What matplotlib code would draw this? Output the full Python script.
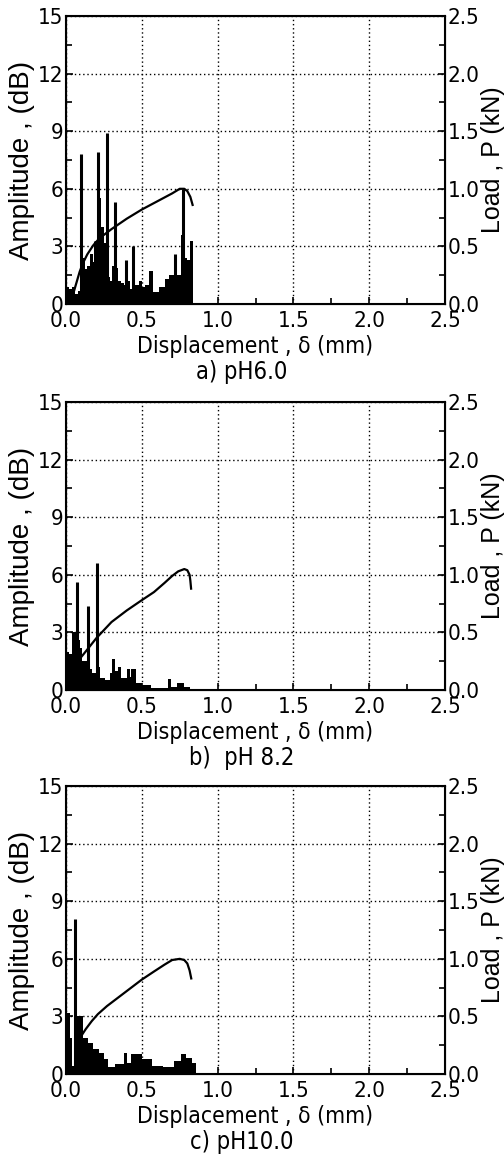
import numpy as np
import matplotlib.pyplot as plt
from matplotlib.ticker import MultipleLocator

plt.rcParams['font.family'] = ['DejaVu Sans']
plt.rcParams['font.stretch'] = 'condensed'

# Panel a) pH6.0 - AE amplitude envelope (step edges / heights), spikes, load curve
edges_a = [0.00, 0.02, 0.04, 0.06, 0.08, 0.09, 0.11, 0.125, 0.14, 0.16, 0.175, 0.19, 0.21,
           0.23, 0.25, 0.27, 0.29, 0.30, 0.32, 0.345, 0.36, 0.38, 0.40, 0.42, 0.45, 0.48,
           0.50, 0.52, 0.545, 0.575, 0.61, 0.65, 0.68, 0.71, 0.73, 0.76, 0.785, 0.80, 0.82, 0.84]
amp_a = [0.9, 0.8, 0.9, 0.5, 0.7, 1.9, 2.4, 1.8, 2.0, 2.6, 2.2, 3.3, 5.5,
         4.0, 3.2, 1.4, 1.2, 2.0, 1.9, 1.2, 1.1, 1.0, 1.2, 0.8, 1.0, 1.2,
         0.9, 1.0, 1.7, 0.6, 0.9, 1.3, 1.5, 1.4, 1.5, 3.6, 2.4, 2.3, 3.3]
spike_x_a = [0.10, 0.19, 0.21, 0.27, 0.32, 0.395, 0.44, 0.72, 0.77]
spike_y_a = [7.8, 3.3, 7.9, 8.9, 5.3, 2.3, 3.0, 2.6, 6.0]
load_x_a = [0.05, 0.07, 0.09, 0.11, 0.14, 0.18, 0.22, 0.26, 0.30, 0.40, 0.50, 0.60,
            0.70, 0.75, 0.78, 0.80, 0.82, 0.835]
load_y_a = [0.10, 0.19, 0.28, 0.35, 0.43, 0.51, 0.57, 0.61, 0.65, 0.74, 0.82, 0.89,
            0.96, 1.00, 1.00, 0.98, 0.93, 0.86]

# Panel b) pH 8.2
edges_b = [0.00, 0.02, 0.04, 0.07, 0.09, 0.105, 0.125, 0.15, 0.17, 0.20, 0.225, 0.26, 0.29,
           0.30, 0.32, 0.345, 0.36, 0.40, 0.42, 0.43, 0.46, 0.50, 0.56, 0.67, 0.69, 0.73, 0.78, 0.82]
amp_b = [2.0, 1.9, 3.0, 2.6, 2.2, 1.5, 1.5, 1.1, 0.9, 1.2, 0.6, 0.5, 0.9,
         1.6, 1.0, 1.2, 0.6, 1.1, 0.7, 1.1, 0.35, 0.25, 0.12, 0.55, 0.18, 0.35, 0.15]
spike_x_b = [0.07, 0.148, 0.203]
spike_y_b = [5.6, 4.35, 6.6]
load_x_b = [0.09, 0.115, 0.20, 0.30, 0.40, 0.50, 0.58, 0.65, 0.70, 0.74, 0.78, 0.80,
            0.815, 0.82, 0.825]
load_y_b = [0.27, 0.31, 0.45, 0.59, 0.69, 0.78, 0.85, 0.93, 0.99, 1.03, 1.05, 1.04,
            1.00, 0.95, 0.88]

# Panel c) pH10.0
edges_c = [0.00, 0.025, 0.04, 0.05, 0.11, 0.145, 0.18, 0.22, 0.25, 0.28, 0.32, 0.38, 0.40,
           0.43, 0.50, 0.57, 0.64, 0.71, 0.76, 0.79, 0.83, 0.86]
amp_c = [3.2, 1.9, 0.4, 3.0, 1.9, 1.6, 1.3, 1.1, 0.8, 0.35, 0.5, 1.1, 0.6,
         1.05, 0.8, 0.4, 0.35, 0.7, 1.05, 0.85, 0.55]
spike_x_c = [0.06]
spike_y_c = [8.1]
load_x_c = [0.10, 0.13, 0.17, 0.21, 0.27, 0.35, 0.43, 0.50, 0.58, 0.65, 0.70, 0.75,
            0.78, 0.80, 0.815, 0.826]
load_y_c = [0.33, 0.39, 0.46, 0.52, 0.59, 0.67, 0.75, 0.82, 0.89, 0.95, 0.99, 1.00,
            0.99, 0.96, 0.90, 0.83]

captions = ["a) pH6.0", "b)  pH 8.2", "c) pH10.0"]

fig = plt.figure(figsize=(5.04, 11.62), dpi=100)

def draw_panel(bottom, edges, amp, sx, sy, lx, ly, caption):
    ax = fig.add_axes([0.131, bottom, 0.752, 0.2478])
    ax.stairs(amp, edges, fill=True, color="black")
    ax.vlines(sx, 0, sy, color="black", linewidth=2.2)
    ax.set_xlim(0, 2.5)
    ax.set_ylim(0, 15)
    ax.xaxis.set_major_locator(MultipleLocator(0.5))
    ax.xaxis.set_minor_locator(MultipleLocator(0.25))
    ax.yaxis.set_major_locator(MultipleLocator(3))
    ax.yaxis.set_minor_locator(MultipleLocator(1.5))
    ax.xaxis.set_major_formatter(lambda v, p: f"{v:.1f}")
    ax.grid(True, which="major", color="black", linestyle=(0, (1, 2)), linewidth=1.0)
    ax.tick_params(which="both", direction="in", labelsize=16, width=1.2)
    ax.tick_params(axis="y", pad=2)
    ax.tick_params(axis="x", pad=5)
    ax.tick_params(which="major", length=5)
    ax.tick_params(which="minor", length=4)
    for s in ax.spines.values():
        s.set_linewidth(1.5)
    ax.set_ylabel("Amplitude , (dB)", fontsize=20, family="Liberation Sans",
                  fontstretch="normal", labelpad=2)
    ax.set_xlabel("Displacement , δ (mm)", fontsize=16.5, labelpad=3)

    ax2 = ax.twinx()
    ax2.plot(lx, ly, color="black", linewidth=1.6)
    ax2.set_ylim(0, 2.5)
    ax2.yaxis.set_major_locator(MultipleLocator(0.5))
    ax2.yaxis.set_minor_locator(MultipleLocator(0.25))
    ax2.yaxis.set_major_formatter(lambda v, p: f"{v:.1f}")
    ax2.tick_params(which="both", direction="in", labelsize=16, pad=2, width=1.2)
    ax2.tick_params(which="major", length=5)
    ax2.tick_params(which="minor", length=4)
    ax2.set_ylabel("Load , P (kN)", fontsize=18, family="Liberation Sans",
                   fontstretch="normal", labelpad=1)
    ax.text(0.464, -0.236, caption, transform=ax.transAxes, ha="center", va="center", fontsize=17)

draw_panel(0.7384, edges_a, amp_a, spike_x_a, spike_y_a, load_x_a, load_y_a, captions[0])
draw_panel(0.4062, edges_b, amp_b, spike_x_b, spike_y_b, load_x_b, load_y_b, captions[1])
draw_panel(0.0757, edges_c, amp_c, spike_x_c, spike_y_c, load_x_c, load_y_c, captions[2])

plt.savefig("out.png", dpi=100)
